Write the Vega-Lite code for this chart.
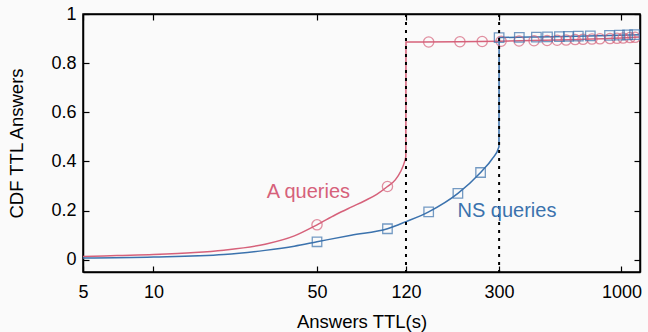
{
  "$schema": "https://vega.github.io/schema/vega-lite/v6.json",
  "width": 557,
  "height": 258,
  "autosize": {"type": "none"},
  "padding": {"left": 83, "top": 14, "right": 8, "bottom": 60},
  "background": "#fafafa",
  "config": {
    "font": "Liberation Sans",
    "view": {"stroke": "#000000", "strokeWidth": 1.5},
    "axis": {"domainColor": "#000000", "domainWidth": 1.5, "tickColor": "#000000", "tickWidth": 1.2, "labelColor": "#000000", "titleColor": "#000000", "labelFontSize": 18, "titleFontSize": 18.5, "titleFontWeight": "normal", "grid": false}
  },
  "datasets": {
    "lines": [
      {"series": "A queries", "ttl": 5, "cdf": 0.013},
      {"series": "A queries", "ttl": 7, "cdf": 0.017},
      {"series": "A queries", "ttl": 10, "cdf": 0.021},
      {"series": "A queries", "ttl": 15, "cdf": 0.029},
      {"series": "A queries", "ttl": 20, "cdf": 0.039},
      {"series": "A queries", "ttl": 30, "cdf": 0.063},
      {"series": "A queries", "ttl": 40, "cdf": 0.097},
      {"series": "A queries", "ttl": 50, "cdf": 0.142},
      {"series": "A queries", "ttl": 60, "cdf": 0.183},
      {"series": "A queries", "ttl": 70, "cdf": 0.214},
      {"series": "A queries", "ttl": 80, "cdf": 0.24},
      {"series": "A queries", "ttl": 90, "cdf": 0.266},
      {"series": "A queries", "ttl": 100, "cdf": 0.298},
      {"series": "A queries", "ttl": 108, "cdf": 0.325},
      {"series": "A queries", "ttl": 114, "cdf": 0.36},
      {"series": "A queries", "ttl": 118, "cdf": 0.395},
      {"series": "A queries", "ttl": 119.8, "cdf": 0.42},
      {"series": "A queries", "ttl": 120, "cdf": 0.886},
      {"series": "A queries", "ttl": 200, "cdf": 0.887},
      {"series": "A queries", "ttl": 300, "cdf": 0.889},
      {"series": "A queries", "ttl": 600, "cdf": 0.895},
      {"series": "A queries", "ttl": 1000, "cdf": 0.902},
      {"series": "A queries", "ttl": 1195, "cdf": 0.906},
      {"series": "NS queries", "ttl": 5, "cdf": 0.007},
      {"series": "NS queries", "ttl": 10, "cdf": 0.011},
      {"series": "NS queries", "ttl": 20, "cdf": 0.021},
      {"series": "NS queries", "ttl": 30, "cdf": 0.038},
      {"series": "NS queries", "ttl": 40, "cdf": 0.055},
      {"series": "NS queries", "ttl": 50, "cdf": 0.073},
      {"series": "NS queries", "ttl": 70, "cdf": 0.1},
      {"series": "NS queries", "ttl": 100, "cdf": 0.126},
      {"series": "NS queries", "ttl": 120, "cdf": 0.155},
      {"series": "NS queries", "ttl": 150, "cdf": 0.195},
      {"series": "NS queries", "ttl": 200, "cdf": 0.27},
      {"series": "NS queries", "ttl": 250, "cdf": 0.355},
      {"series": "NS queries", "ttl": 280, "cdf": 0.41},
      {"series": "NS queries", "ttl": 299.6, "cdf": 0.46},
      {"series": "NS queries", "ttl": 300, "cdf": 0.904},
      {"series": "NS queries", "ttl": 500, "cdf": 0.907},
      {"series": "NS queries", "ttl": 800, "cdf": 0.911},
      {"series": "NS queries", "ttl": 1195, "cdf": 0.916}
    ],
    "markers": [
      {"series": "A queries", "ttl": 50, "cdf": 0.142},
      {"series": "A queries", "ttl": 100, "cdf": 0.298},
      {"series": "A queries", "ttl": 150, "cdf": 0.886},
      {"series": "A queries", "ttl": 204, "cdf": 0.887},
      {"series": "A queries", "ttl": 254, "cdf": 0.888},
      {"series": "A queries", "ttl": 306, "cdf": 0.889},
      {"series": "A queries", "ttl": 365, "cdf": 0.89},
      {"series": "A queries", "ttl": 423, "cdf": 0.891},
      {"series": "A queries", "ttl": 481, "cdf": 0.892},
      {"series": "A queries", "ttl": 531, "cdf": 0.893},
      {"series": "A queries", "ttl": 580, "cdf": 0.894},
      {"series": "A queries", "ttl": 634, "cdf": 0.896},
      {"series": "A queries", "ttl": 685, "cdf": 0.897},
      {"series": "A queries", "ttl": 748, "cdf": 0.898},
      {"series": "A queries", "ttl": 809, "cdf": 0.899},
      {"series": "A queries", "ttl": 893, "cdf": 0.9},
      {"series": "A queries", "ttl": 957, "cdf": 0.901},
      {"series": "A queries", "ttl": 1016, "cdf": 0.902},
      {"series": "A queries", "ttl": 1088, "cdf": 0.904},
      {"series": "A queries", "ttl": 1143, "cdf": 0.905},
      {"series": "NS queries", "ttl": 50, "cdf": 0.073},
      {"series": "NS queries", "ttl": 100, "cdf": 0.126},
      {"series": "NS queries", "ttl": 150, "cdf": 0.195},
      {"series": "NS queries", "ttl": 200, "cdf": 0.27},
      {"series": "NS queries", "ttl": 250, "cdf": 0.355},
      {"series": "NS queries", "ttl": 300, "cdf": 0.904},
      {"series": "NS queries", "ttl": 366, "cdf": 0.905},
      {"series": "NS queries", "ttl": 433, "cdf": 0.906},
      {"series": "NS queries", "ttl": 483, "cdf": 0.907},
      {"series": "NS queries", "ttl": 543, "cdf": 0.908},
      {"series": "NS queries", "ttl": 593, "cdf": 0.909},
      {"series": "NS queries", "ttl": 654, "cdf": 0.91},
      {"series": "NS queries", "ttl": 736, "cdf": 0.911},
      {"series": "NS queries", "ttl": 889, "cdf": 0.913},
      {"series": "NS queries", "ttl": 981, "cdf": 0.914},
      {"series": "NS queries", "ttl": 1062, "cdf": 0.915},
      {"series": "NS queries", "ttl": 1138, "cdf": 0.916}
    ],
    "rules": [{"ttl": 120}, {"ttl": 300}],
    "labels": [
      {"series": "A queries", "ttl": 45.9, "cdf": 0.277},
      {"series": "NS queries", "ttl": 324, "cdf": 0.2}
    ]
  },
  "resolve": {"axis": {"x": "independent", "y": "independent"}},
  "layer": [
    {
      "data": {"name": "lines"},
      "mark": {"type": "line", "interpolate": "monotone", "strokeWidth": 1.5, "clip": true},
      "encoding": {
        "x": {"field": "ttl", "type": "quantitative", "scale": {"type": "log", "domain": [5, 1200], "nice": false},
          "axis": {"orient": "bottom", "values": [5, 10, 50, 120, 300, 1000], "format": "~g", "title": "Answers TTL(s)", "tickSize": -6, "labelPadding": 17, "titlePadding": 11, "labelFlush": false}},
        "y": {"field": "cdf", "type": "quantitative", "scale": {"domain": [-0.05, 1], "nice": false, "zero": false},
          "axis": {"orient": "left", "values": [0, 0.2, 0.4, 0.6, 0.8, 1], "format": "~g", "title": "CDF TTL Answers", "tickSize": -6, "labelPadding": 13, "titlePadding": 24, "labelFlush": false}},
        "color": {"field": "series", "type": "nominal", "scale": {"domain": ["A queries", "NS queries"], "range": ["#d6617a", "#3b72ad"]}, "legend": null},
        "detail": {"field": "series"}
      }
    },
    {
      "data": {"name": "markers"},
      "mark": {"type": "point", "filled": false, "strokeWidth": 1.3, "clip": true},
      "encoding": {
        "x": {"field": "ttl", "type": "quantitative", "scale": {"type": "log", "domain": [5, 1200], "nice": false}, "axis": null},
        "y": {"field": "cdf", "type": "quantitative", "scale": {"domain": [-0.05, 1], "nice": false, "zero": false}, "axis": null},
        "color": {"field": "series", "type": "nominal", "scale": {"domain": ["A queries", "NS queries"], "range": ["#d6617a", "#3b72ad"]}, "legend": null},
        "shape": {"field": "series", "type": "nominal", "scale": {"domain": ["A queries", "NS queries"], "range": ["circle", "square"]}, "legend": null},
        "size": {"field": "series", "type": "nominal", "scale": {"domain": ["A queries", "NS queries"], "range": [105, 90]}, "legend": null}
      }
    },
    {
      "data": {"name": "rules"},
      "mark": {"type": "rule", "color": "#000000", "strokeWidth": 2, "strokeDash": [3, 5]},
      "encoding": {
        "x": {"field": "ttl", "type": "quantitative", "scale": {"type": "log", "domain": [5, 1200], "nice": false},
          "axis": {"orient": "top", "values": [5, 10, 50, 120, 300, 1000], "labels": false, "title": null, "tickSize": -6}}
      }
    },
    {
      "data": {"name": "labels"},
      "mark": {"type": "text", "fontSize": 20, "align": "center", "baseline": "middle"},
      "encoding": {
        "x": {"field": "ttl", "type": "quantitative", "scale": {"type": "log", "domain": [5, 1200], "nice": false}, "axis": null},
        "y": {"field": "cdf", "type": "quantitative", "scale": {"domain": [-0.05, 1], "nice": false, "zero": false},
          "axis": {"orient": "right", "values": [0, 0.2, 0.4, 0.6, 0.8, 1], "labels": false, "title": null, "tickSize": -6}},
        "text": {"field": "series"},
        "color": {"field": "series", "type": "nominal", "scale": {"domain": ["A queries", "NS queries"], "range": ["#d6617a", "#3b72ad"]}, "legend": null}
      }
    }
  ]
}
